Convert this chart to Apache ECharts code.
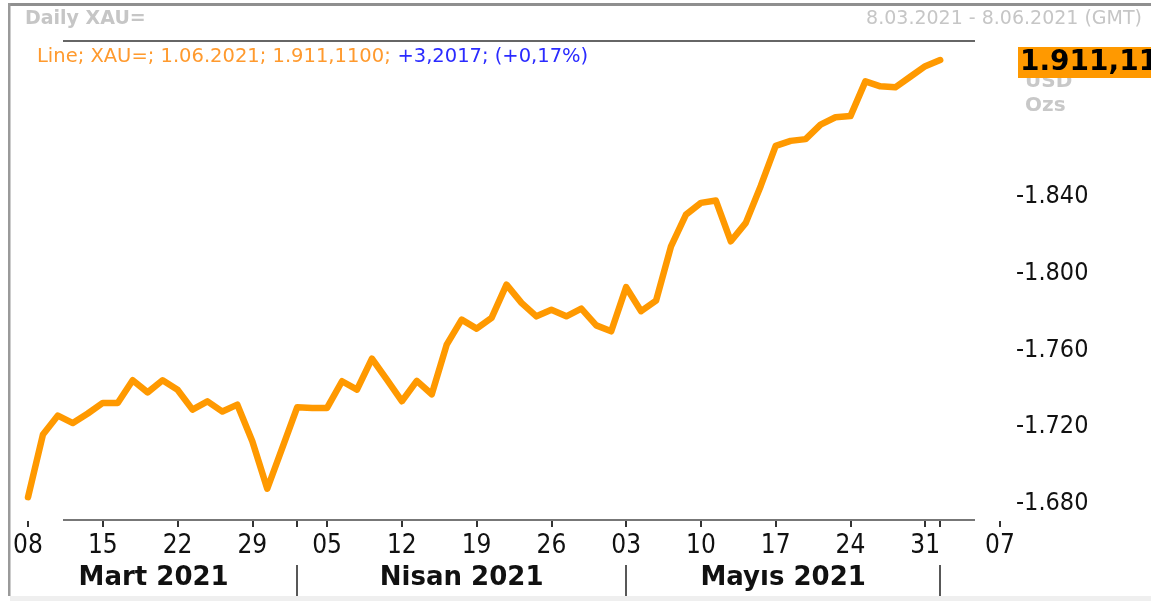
<!DOCTYPE html>
<html>
<head>
<meta charset="utf-8">
<title>Daily XAU=</title>
<script src="https://cdn.jsdelivr.net/npm/echarts@6/dist/echarts.min.js"></script>
<style>
html,body{margin:0;padding:0;background:#fff;}
#main{width:1151px;height:601px;}
</style>
</head>
<body>
<div id="main"></div>
<script type="text/javascript">
// trading days shown on the axis (8.03.2021 - 7.06.2021)
var dates = [
  '2021-03-08','2021-03-09','2021-03-10','2021-03-11','2021-03-12',
  '2021-03-15','2021-03-16','2021-03-17','2021-03-18','2021-03-19',
  '2021-03-22','2021-03-23','2021-03-24','2021-03-25','2021-03-26',
  '2021-03-29','2021-03-30','2021-03-31','2021-04-01','2021-04-02',
  '2021-04-05','2021-04-06','2021-04-07','2021-04-08','2021-04-09',
  '2021-04-12','2021-04-13','2021-04-14','2021-04-15','2021-04-16',
  '2021-04-19','2021-04-20','2021-04-21','2021-04-22','2021-04-23',
  '2021-04-26','2021-04-27','2021-04-28','2021-04-29','2021-04-30',
  '2021-05-03','2021-05-04','2021-05-05','2021-05-06','2021-05-07',
  '2021-05-10','2021-05-11','2021-05-12','2021-05-13','2021-05-14',
  '2021-05-17','2021-05-18','2021-05-19','2021-05-20','2021-05-21',
  '2021-05-24','2021-05-25','2021-05-26','2021-05-27','2021-05-28',
  '2021-05-31','2021-06-01','2021-06-02','2021-06-03','2021-06-04',
  '2021-06-07'
];

// XAU= daily close, 8.03 -> 1.06
var prices = [
  1683.4, 1716.0, 1725.9, 1722.0, 1727.0,
  1732.5, 1732.5, 1744.3, 1738.0, 1744.3,
  1739.4, 1729.0, 1733.3, 1728.0, 1731.6,
  1712.5, 1687.8, 1709.0, 1730.2, 1729.9,
  1729.9, 1743.8, 1739.4, 1755.6, 1744.6,
  1733.4, 1744.0, 1737.0, 1762.9, 1775.9,
  1771.2, 1776.8, 1794.1, 1784.6, 1777.6,
  1781.0, 1777.6, 1781.6, 1772.9, 1769.8,
  1792.8, 1780.3, 1785.8, 1814.0, 1830.6,
  1836.7, 1837.9, 1816.7, 1826.3, 1845.5,
  1866.4, 1869.0, 1869.9, 1877.5, 1881.3,
  1881.9, 1900.0, 1897.4, 1896.9, 1902.4,
  1907.9, 1911.11
];

var dayTicks = ['2021-03-08','2021-03-15','2021-03-22','2021-03-29','2021-04-05','2021-04-12',
  '2021-04-19','2021-04-26','2021-05-03','2021-05-10','2021-05-17','2021-05-24','2021-05-31','2021-06-07'];
var monthStarts = ['2021-04-01','2021-05-03','2021-06-01'];
var monthNames = ['Mart 2021','Nisan 2021','Mayıs 2021'];
var yTicks = [1680, 1720, 1760, 1800, 1840];

var FONT = "'DejaVu Sans Condensed', 'DejaVu Sans', sans-serif";
var FONT_W = "'DejaVu Sans', sans-serif";

function trNum(v, dec) {
  var s = v.toFixed(dec).split('.');
  var intPart = s[0].replace(/\B(?=(\d{3})+(?!\d))/g, '.');
  return dec ? intPart + ',' + s[1] : intPart;
}

var seriesData = prices.map(function (p, i) { return [i, p]; });
var dayIdx = dayTicks.map(function (d) { return dates.indexOf(d); });
var sepIdx = monthStarts.map(function (d) { return dates.indexOf(d); });
var tickIdx = dayIdx.concat(sepIdx);
// month captions centred between separators (first one from the left frame edge)
var bounds = [-1.2].concat(sepIdx);
var monthPos = [];
for (var k = 0; k < monthNames.length; k++) {
  monthPos.push((bounds[k] + bounds[k + 1]) / 2);
}

var myChart = echarts.init(document.getElementById('main'));

var option = {
  animation: false,
  backgroundColor: '#fff',
  grid: { left: 28, right: 151, top: 42, bottom: 80 },
  xAxis: [{
    type: 'value',
    min: 0,
    max: dates.length - 1,
    splitLine: { show: false },
    axisLine: { show: false },
    axisTick: { show: true, customValues: tickIdx, length: 6, lineStyle: { color: '#333', width: 2 } },
    axisLabel: {
      customValues: dayIdx,
      margin: 12,
      color: '#111',
      fontSize: 26,
      fontFamily: FONT,
      formatter: function (v) { return dates[Math.round(v)].slice(8); }
    }
  }, {
    type: 'value',
    min: 0,
    max: dates.length - 1,
    position: 'bottom',
    offset: 44,
    splitLine: { show: false },
    axisLine: { show: false },
    axisTick: { show: true, customValues: sepIdx, length: 31, lineStyle: { color: '#222', width: 1.5 } },
    axisLabel: {
      customValues: monthPos,
      margin: 0,
      color: '#111',
      fontSize: 26,
      fontWeight: 'bold',
      fontFamily: FONT_W,
      formatter: function (v) {
        for (var m = 0; m < monthPos.length; m++) {
          if (Math.abs(monthPos[m] - v) < 0.01) return monthNames[m];
        }
        return '';
      }
    }
  }],
  yAxis: {
    type: 'value',
    position: 'right',
    min: 1671,
    max: 1920.5,
    splitLine: { show: false },
    axisLine: { show: false },
    axisTick: { show: false },
    axisLabel: {
      customValues: yTicks,
      margin: 16,
      color: '#111',
      fontSize: 25,
      fontFamily: FONT,
      formatter: function (v) { return '-' + trNum(v, 0); }
    }
  },
  series: [{
    name: 'XAU=',
    type: 'line',
    xAxisIndex: 0,
    data: seriesData,
    showSymbol: false,
    lineStyle: { color: '#ff9900', width: 6.5, join: 'round', cap: 'round' },
    z: 5
  }],
  graphic: [
    { type: 'rect', shape: { x: 8, y: 3, width: 1143, height: 3 }, style: { fill: '#8f8f8f' } },
    { type: 'rect', shape: { x: 8, y: 3, width: 2.5, height: 593 }, style: { fill: '#9a9a9a' } },
    { type: 'rect', shape: { x: 10, y: 596, width: 1141, height: 5 }, style: { fill: '#efefef' } },
    { type: 'line', shape: { x1: 63, y1: 41, x2: 975, y2: 41 }, style: { stroke: '#666', lineWidth: 2 } },
    { type: 'line', shape: { x1: 63, y1: 520, x2: 975, y2: 520 }, style: { stroke: '#777', lineWidth: 2 } },
    { type: 'text', x: 25, y: 19, style: { text: 'Daily XAU=', fill: '#c6c6c6', font: 'bold 19px ' + FONT_W, textVerticalAlign: 'middle' } },
    { type: 'text', x: 1142, y: 19, style: { text: '8.03.2021 - 8.06.2021 (GMT)', fill: '#c6c6c6', font: '19px ' + FONT_W, textAlign: 'right', textVerticalAlign: 'middle' } },
    { type: 'text', x: 37, y: 57, style: {
        text: '{o|Line; XAU=; 1.06.2021; 1.911,1100;}  {b|+3,2017; (+0,17%)}',
        textVerticalAlign: 'middle',
        rich: {
          o: { fill: '#ff9a2e', font: '19.5px ' + FONT_W },
          b: { fill: '#2b2bff', font: '19.5px ' + FONT_W }
        }
      } },
    { type: 'text', z: 1, x: 1025, y: 82, style: { text: 'USD', fill: '#c8c8c8', font: 'bold 20px ' + FONT_W, textVerticalAlign: 'middle' } },
    { type: 'text', z: 1, x: 1025, y: 106, style: { text: 'Ozs', fill: '#c8c8c8', font: 'bold 20px ' + FONT_W, textVerticalAlign: 'middle' } },
    { type: 'rect', z: 10, shape: { x: 1018, y: 47, width: 140, height: 31 }, style: { fill: '#ff9900' } },
    { type: 'text', z: 11, x: 1020, y: 63, style: { text: trNum(prices[prices.length - 1], 2), fill: '#000', font: 'bold 28px ' + FONT_W, textVerticalAlign: 'middle' } }
  ]
};

myChart.setOption(option);
</script>
</body>
</html>
